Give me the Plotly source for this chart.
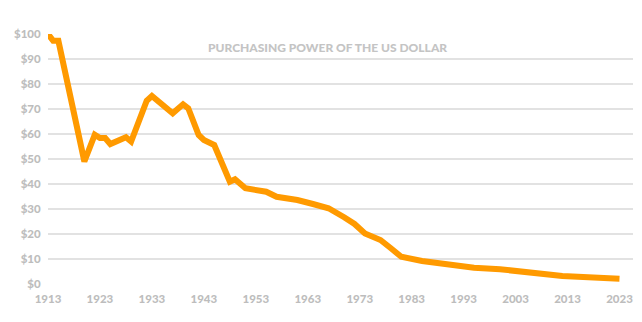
import plotly.graph_objects as go

years = [1913, 1914, 1915, 1920, 1922, 1923, 1924, 1925, 1928, 1929, 1932, 1933,
         1937, 1939, 1940, 1942, 1943, 1945, 1948, 1949, 1951, 1954, 1955, 1957,
         1961, 1964, 1967, 1970, 1972, 1974, 1977, 1979, 1981, 1985, 1990, 1995,
         2000, 2003, 2008, 2012, 2023]
values = [100, 97.3, 97.3, 49, 59.7, 58.4, 58.4, 56, 58.7, 57, 73.3, 75.2,
          68.3, 71.9, 70.3, 59.6, 57.6, 55.6, 40.9, 41.9, 38.3, 36.9, 36.9, 34.9,
          33.6, 32, 30.3, 26.7, 24, 20.2, 17.6, 14.3, 10.9, 9.2, 7.9, 6.5,
          5.9, 5.3, 4.0, 3.2, 2.1]
x_ticks = [1913, 1923, 1933, 1943, 1953, 1963, 1973, 1983, 1993, 2003, 2013, 2023]
y_ticks = [0, 10, 20, 30, 40, 50, 60, 70, 80, 90, 100]
y_labels = ["$" + str(v) for v in y_ticks]
title = "PURCHASING POWER OF THE US DOLLAR"

label_font = dict(family="Lato", size=11.5, color="#bdbdbd", weight=900)

fig = go.Figure(go.Scatter(
    x=years, y=values, mode="lines",
    line=dict(color="#ff9a00", width=6),
    cliponaxis=False, hoverinfo="skip"))

fig.update_layout(
    width=642, height=322,
    margin=dict(l=48, r=9, t=34, b=38),
    paper_bgcolor="white", plot_bgcolor="white",
    showlegend=False,
    xaxis=dict(range=[1913, 2025.6], tickvals=x_ticks, ticktext=[str(v) for v in x_ticks],
               showgrid=False, zeroline=False, showline=False,
               ticks="outside", ticklen=4, tickcolor="rgba(0,0,0,0)",
               tickfont=label_font),
    yaxis=dict(range=[0, 100], tickvals=y_ticks, ticktext=y_labels,
               showgrid=True, gridcolor="#e2e2e2", gridwidth=1.5,
               zeroline=False, showline=False,
               ticks="outside", ticklen=4, tickcolor="rgba(0,0,0,0)",
               tickfont=label_font),
    annotations=[dict(text=title, xref="paper", yref="paper",
                      x=0.477, y=0.948, xanchor="center", yanchor="middle",
                      showarrow=False,
                      font=dict(family="Lato", size=12, color="#c4c4c4", weight=900))],
)

fig.write_html("out.html")
